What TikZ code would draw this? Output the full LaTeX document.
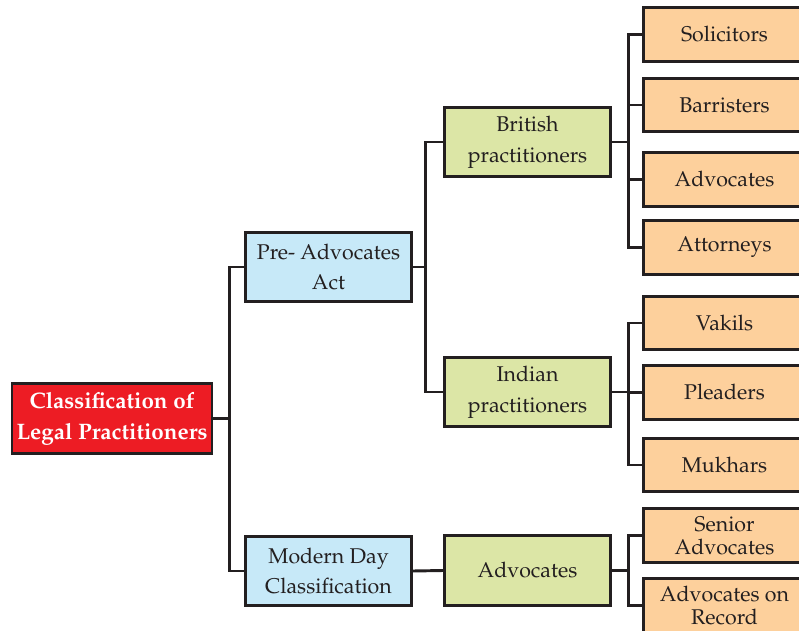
\documentclass[tikz,border=0pt]{standalone}
\usepackage[T1]{fontenc}
\usepackage{mathpazo}
\definecolor{ink}{HTML}{231F20}
\definecolor{rootred}{HTML}{ED1C24}
\definecolor{bluebox}{HTML}{C7E9F8}
\definecolor{greenbox}{HTML}{DCE6A6}
\definecolor{orangebox}{HTML}{FDD09C}
\tikzset{
  box/.style={draw=ink, line width=2.2pt, align=center, inner sep=0pt, text=ink,
    font=\fontsize{16}{23}\selectfont},
  rootbox/.style={box, fill=rootred, text=white, minimum width=150pt, minimum height=52pt,
    font=\fontsize{16.8}{23}\selectfont\bfseries},
  midbox/.style={box, fill=bluebox, minimum width=124pt, minimum height=52pt},
  grnbox/.style={box, fill=greenbox, minimum width=124pt, minimum height=52pt},
  leafbox/.style={box, fill=orangebox, minimum width=122pt, minimum height=40pt,
    font=\fontsize{16}{17.5}\selectfont},
  link/.style={draw=ink, line width=2.2pt}
}
\begin{document}
\begin{tikzpicture}[x=0.75pt, y=-0.75pt]
\useasboundingbox (0,0) rectangle (799,631);
\clip (0,0) rectangle (799,631);
\node[rootbox] (root) at (112,418.5) {Classification of\\Legal Practitioners};
\node[midbox] (pre) at (328.5,267) {Pre- Advocates\\Act};
\node[midbox] (modern) at (328.5,571) {Modern Day\\Classification};
\node[grnbox] (brit) at (527.5,142) {British\\practitioners};
\node[grnbox] (ind) at (527.5,392) {Indian\\practitioners};
\node[grnbox] (adv) at (527.5,570.5) {Advocates};
\node[leafbox] (sol) at (724.5,34.5) {Solicitors};
\node[leafbox] (bar) at (724.5,105) {Barristers};
\node[leafbox] (advo) at (724.5,179.5) {Advocates};
\node[leafbox] (att) at (724.5,247.5) {Attorneys};
\node[leafbox] (vak) at (724.5,323) {Vakils};
\node[leafbox] (ple) at (724.5,392.5) {Pleaders};
\node[leafbox] (muk) at (724.5,465) {Mukhars};
\node[leafbox] (sen) at (724.5,535.5) {Senior\\Advocates};
\node[leafbox] (rec) at (724.5,605.5) {Advocates on\\Record};
% connectors
\draw[link] (root.east) -- ++(16,0) |- (pre.west);
\draw[link] (root.east) -- ++(16,0) |- (modern.west);
\draw[link] (pre.east) -- ++(13,0) |- (brit.west);
\draw[link] (pre.east) -- ++(13,0) |- (ind.west);
\draw[link] (modern.east) -- (adv.west);
\foreach \t in {sol,bar,advo,att} \draw[link] (brit.east) -- ++(17,0) |- (\t.west);
\foreach \t in {vak,ple,muk} \draw[link] (ind.east) -- ++(17,0) |- (\t.west);
\foreach \t in {sen,rec} \draw[link] (adv.east) -- ++(17,0) |- (\t.west);
\end{tikzpicture}
\end{document}
